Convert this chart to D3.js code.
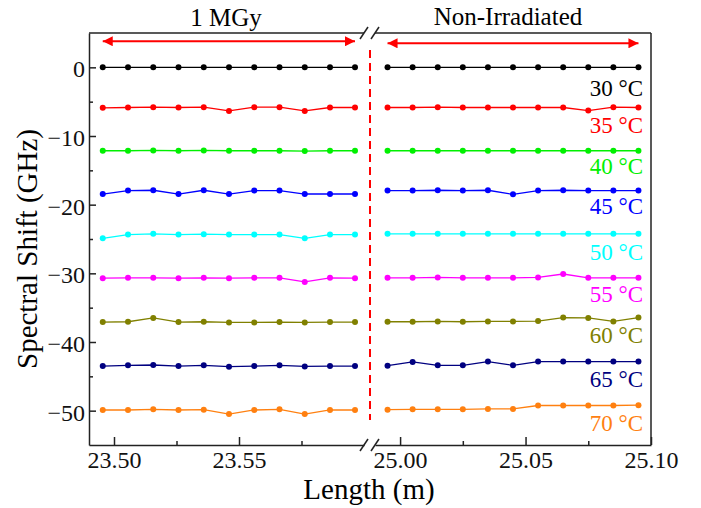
<!DOCTYPE html>
<html>
<head>
<meta charset="utf-8">
<script src="https://cdn.jsdelivr.net/npm/d3@7"></script>
<style>
  body { margin: 0; background: #fff; }
  text { font-family: "Liberation Serif", "Times New Roman", serif; }
</style>
</head>
<body>
<div id="plot"></div>
<script>
// sample positions along the fibre (m)
const xIrr = [23.4955, 23.5056, 23.5157, 23.5258, 23.5359, 23.5460, 23.5561, 23.5662, 23.5763, 23.5864, 23.5964];
const xNon = [24.995, 25.005, 25.015, 25.025, 25.035, 25.045, 25.055, 25.065, 25.075, 25.085, 25.095];

const temps = ["30 °C", "35 °C", "40 °C", "45 °C", "50 °C", "55 °C", "60 °C", "65 °C", "70 °C"];
const colors = ["#000000", "#ff0000", "#00f000", "#0000ff", "#00ffff", "#ff00ff", "#808000", "#000080", "#ff8010"];

// spectral shift (GHz), 1 MGy section
const irr = [
  [0, 0, 0, 0, 0, 0, 0, 0, 0, 0, 0],
  [-5.9, -5.85, -5.8, -5.85, -5.8, -6.35, -5.8, -5.8, -6.35, -5.85, -5.85],
  [-12.15, -12.15, -12.1, -12.15, -12.1, -12.15, -12.15, -12.15, -12.2, -12.15, -12.15],
  [-18.45, -17.95, -17.9, -18.45, -17.9, -18.45, -17.95, -17.95, -18.45, -18.45, -18.45],
  [-24.9, -24.35, -24.25, -24.35, -24.3, -24.35, -24.35, -24.35, -24.9, -24.35, -24.35],
  [-30.7, -30.65, -30.65, -30.7, -30.65, -30.7, -30.65, -30.65, -31.25, -30.65, -30.7],
  [-37.1, -37.05, -36.5, -37.1, -37.05, -37.15, -37.15, -37.1, -37.15, -37.1, -37.1],
  [-43.5, -43.4, -43.35, -43.5, -43.4, -43.6, -43.5, -43.4, -43.55, -43.5, -43.5],
  [-49.9, -49.9, -49.8, -49.9, -49.85, -50.5, -49.9, -49.8, -50.5, -49.9, -49.9]
];

// spectral shift (GHz), non-irradiated section
const non = [
  [0, 0, 0, 0, 0, 0, 0, 0, 0, 0, 0],
  [-5.85, -5.85, -5.8, -5.85, -5.85, -5.85, -5.85, -5.85, -6.3, -5.8, -5.85],
  [-12.15, -12.15, -12.15, -12.15, -12.15, -12.15, -12.15, -12.15, -12.15, -12.15, -12.15],
  [-17.95, -17.95, -17.9, -17.95, -17.9, -18.5, -17.95, -17.9, -17.95, -17.95, -17.95],
  [-24.25, -24.25, -24.25, -24.25, -24.25, -24.25, -24.25, -24.25, -24.25, -24.25, -24.25],
  [-30.65, -30.65, -30.6, -30.65, -30.65, -30.65, -30.6, -30.1, -30.65, -30.65, -30.65],
  [-37.05, -37.05, -37.0, -37.05, -37.0, -37.0, -36.95, -36.45, -36.5, -37.0, -36.45],
  [-43.45, -42.9, -43.4, -43.4, -42.85, -43.4, -42.85, -42.85, -42.85, -42.85, -42.85],
  [-49.85, -49.8, -49.8, -49.8, -49.75, -49.75, -49.25, -49.25, -49.25, -49.25, -49.2]
];

// where each temperature label sits (GHz)
const labelY = [-4.2, -9.6, -15.5, -21.4, -28.1, -34.2, -40.2, -46.5, -52.9];

const yTicks = [0, -10, -20, -30, -40, -50];
const yMinor = [-5, -15, -25, -35, -45];
const xTicksIrr = [23.50, 23.55];
const xMinorIrr = [23.525, 23.575];
const xTicksNon = [25.00, 25.05, 25.10];
const xMinorNon = [25.025, 25.075];

const W = 701, H = 508;
const mTop = 33, mBottom = 445, mLeft = 89, mRight = 651;

const svg = d3.select("#plot").append("svg")
    .attr("width", W)
    .attr("height", H);

const y = d3.scaleLinear().domain([-55, 5]).range([mBottom, mTop]);
const x1 = d3.scaleLinear().domain([23.49, 23.60]).range([mLeft, 364]);
const x2 = d3.scaleLinear().domain([24.99, 25.10]).range([375, mRight]);

// frame: top pieces, right side
const frame = svg.append("g").attr("stroke", "#222").attr("stroke-width", 1.5).attr("fill", "none");
frame.append("line").attr("x1", x1.range()[0]).attr("x2", x1.range()[1]).attr("y1", mTop).attr("y2", mTop);
frame.append("line").attr("x1", x2.range()[0]).attr("x2", x2.range()[1]).attr("y1", mTop).attr("y2", mTop);
frame.append("line").attr("x1", mRight).attr("x2", mRight).attr("y1", mTop).attr("y2", mBottom);

// break marks on top and bottom
[mTop, mBottom].forEach(yy => {
  [x1.range()[1], x2.range()[0]].forEach(xx => {
    frame.append("line")
      .attr("x1", xx - 4).attr("y1", yy + 6)
      .attr("x2", xx + 4).attr("y2", yy - 6);
  });
});

// y axis
const yAxis = svg.append("g")
    .attr("transform", `translate(${mLeft},0)`)
    .call(d3.axisLeft(y).tickValues(yTicks).tickSize(-7).tickSizeOuter(0).tickPadding(4).tickFormat(d3.format("d")));
svg.append("g")
    .attr("transform", `translate(${mLeft},0)`)
    .call(d3.axisLeft(y).tickValues(yMinor).tickSize(-4).tickFormat(""))
    .select(".domain").remove();

// x axes (two segments)
function xAxis(sc, major, minor) {
  const g = svg.append("g")
      .attr("transform", `translate(0,${mBottom})`)
      .call(d3.axisBottom(sc).tickValues(major).tickSize(-8).tickSizeOuter(0).tickPadding(6).tickFormat(d3.format(".2f")));
  svg.append("g")
      .attr("transform", `translate(0,${mBottom})`)
      .call(d3.axisBottom(sc).tickValues(minor).tickSize(-4).tickFormat(""))
      .select(".domain").remove();
  return g;
}
xAxis(x1, xTicksIrr, xMinorIrr);
xAxis(x2, xTicksNon, xMinorNon);

svg.selectAll(".tick text").attr("font-size", "24px").attr("fill", "#111");
svg.selectAll(".domain, .tick line").attr("stroke", "#222").attr("stroke-width", 1.5);
yAxis.selectAll(".tick text").attr("dy", "0.4em");

// dashed separator
svg.append("line")
    .attr("x1", 370).attr("x2", 370)
    .attr("y1", 50).attr("y2", 420)
    .attr("stroke", "#ff0000")
    .attr("stroke-width", 2)
    .attr("stroke-dasharray", "8,5");

// arrows
const defs = svg.append("defs");
defs.append("marker")
    .attr("id", "head")
    .attr("viewBox", "0 0 10 10")
    .attr("refX", 10).attr("refY", 5)
    .attr("markerUnits", "userSpaceOnUse")
    .attr("markerWidth", 16).attr("markerHeight", 10)
    .attr("orient", "auto-start-reverse")
  .append("path")
    .attr("d", "M0,0L10,5L0,10Z")
    .attr("fill", "#ff0000");

[[x1, xIrr, 3.8], [x2, xNon, 3.5]].forEach(([sc, xs, v]) => {
  svg.append("line")
    .attr("x1", sc(xs[0])).attr("x2", sc(xs[xs.length - 1]))
    .attr("y1", y(v)).attr("y2", y(v))
    .attr("stroke", "#ff0000")
    .attr("stroke-width", 2)
    .attr("marker-start", "url(#head)")
    .attr("marker-end", "url(#head)");
});

// series
const line = sc => d3.line().x(d => sc(d[0])).y(d => y(d[1]));

temps.forEach((t, i) => {
  [[x1, xIrr, irr[i]], [x2, xNon, non[i]]].forEach(([sc, xs, ys]) => {
    const pts = xs.map((xv, j) => [xv, ys[j]]);
    svg.append("path")
      .datum(pts)
      .attr("d", line(sc))
      .attr("fill", "none")
      .attr("stroke", colors[i])
      .attr("stroke-width", 1.3);
    svg.append("g").selectAll("circle")
      .data(pts)
      .enter().append("circle")
        .attr("cx", d => sc(d[0]))
        .attr("cy", d => y(d[1]))
        .attr("r", 3)
        .attr("fill", colors[i]);
  });
  svg.append("text")
    .attr("x", 643)
    .attr("y", y(labelY[i]))
    .attr("text-anchor", "end")
    .attr("font-size", "23px")
    .attr("fill", colors[i])
    .text(t);
});

// section titles
svg.append("text")
    .attr("x", 226).attr("y", 26)
    .attr("text-anchor", "middle")
    .attr("font-size", "25px")
    .text("1 MGy");
svg.append("text")
    .attr("x", 508).attr("y", 25)
    .attr("text-anchor", "middle")
    .attr("font-size", "25px")
    .text("Non-Irradiated");

// axis titles
svg.append("text")
    .attr("x", 369).attr("y", 499)
    .attr("text-anchor", "middle")
    .attr("font-size", "29px")
    .text("Length (m)");
svg.append("text")
    .attr("transform", "translate(37,249) rotate(-90)")
    .attr("text-anchor", "middle")
    .attr("font-size", "29px")
    .text("Spectral Shift (GHz)");
</script>
</body>
</html>
